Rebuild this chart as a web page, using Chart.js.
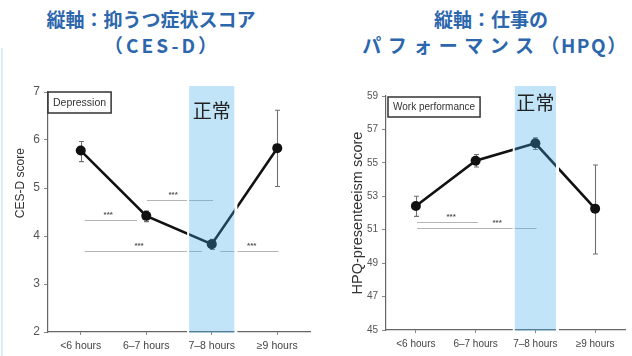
<!DOCTYPE html>
<html lang="ja">
<head>
<meta charset="utf-8">
<script src="https://cdn.jsdelivr.net/npm/chart.js@4/dist/chart.umd.min.js"></script>
<style>
  html, body { margin: 0; padding: 0; background: #fff; }
  body { width: 632px; height: 356px; position: relative; overflow: hidden; }
  .edge { position: absolute; left: 1px; top: 48px; width: 2px; height: 308px; background: #dcecf7; }
  .title {
    position: absolute; top: 6px; width: 320px; text-align: center;
    font-family: "Noto Sans CJK JP", sans-serif; font-weight: 700; font-size: 19px;
    line-height: 26px; color: #2c67ad; white-space: nowrap;
  }
  .title span { display: block; }
  #t1 { left: -9px; }
  #t1 .l2 { letter-spacing: 3px; margin-left: 22px; }
  #t2 { left: 331px; }
  #t2 .l2 { margin-left: 8px; }
  #t2 .kana { display: inline; letter-spacing: 6.5px; }
  #t2 .abbr { display: inline; letter-spacing: 1.5px; }
  canvas { position: absolute; top: 60px; }
  #cesd { left: 0; }
  #hpq { left: 320px; }
</style>
</head>
<body>
<div class="edge"></div>
<div class="title" id="t1"><span>縦軸：抑うつ症状スコア</span><span class="l2">（CES-D）</span></div>
<div class="title" id="t2"><span>縦軸：仕事の</span><span class="l2"><span class="kana">パフォーマンス</span><span class="abbr">（HPQ）</span></span></div>
<canvas id="cesd" width="320" height="296"></canvas>
<canvas id="hpq" width="312" height="296"></canvas>
<script>
// Sleep-duration groups
const categories = ['<6 hours', '6–7 hours', '7–8 hours', '≥9 hours'];
const normalGroup = 2; // "7–8 hours" band labelled 正常

// Depressive symptoms (CES-D): mean with error-bar bounds
const cesdMean = [5.78, 4.42, 3.83, 5.83];
const cesdLow  = [5.55, 4.30, 3.72, 5.03];
const cesdHigh = [5.97, 4.52, 3.93, 6.62];
const cesdTicks = [2, 3, 4, 5, 6, 7];

// Work performance (HPQ presenteeism): mean with error-bar bounds
const hpqMean = [52.42, 55.13, 56.17, 52.26];
const hpqLow  = [51.80, 54.75, 55.80, 49.55];
const hpqHigh = [53.00, 55.50, 56.50, 54.87];
const hpqTicks = [45, 47, 49, 51, 53, 55, 57, 59];

// Pairwise significance brackets: group span, level, label spot
const cesdSigFrom   = [0.06, 1.01, 0.06, 2.13];
const cesdSigTo     = [0.86, 2.02, 1.85, 3.02];
const cesdSigLevel  = [4.33, 4.75, 3.69, 3.69];
const cesdSigLabelX = [0.42, 1.41, 0.89, 2.61];
const hpqSigFrom    = [0.02, 0.02];
const hpqSigTo      = [1.04, 2.02];
const hpqSigLevel   = [51.48, 51.12];
const hpqSigLabelX  = [0.59, 1.36];

const FONT = '"Liberation Sans", Arial, sans-serif';
const JP = '"Noto Sans CJK JP", sans-serif';

function catPixel(xs, v) {
  const a = xs.getPixelForValue(0), b = xs.getPixelForValue(1);
  return a + (b - a) * v;
}

function overlay(o) {
  return {
    id: 'overlay',
    beforeDatasetsDraw(chart) {
      const { ctx, scales: { x, y } } = chart;
      ctx.save();
      // significance brackets
      ctx.strokeStyle = '#b5b5b5';
      ctx.lineWidth = 1;
      ctx.fillStyle = '#555';
      ctx.font = 'bold 8px ' + FONT;
      ctx.textAlign = 'center';
      ctx.textBaseline = 'middle';
      for (let i = 0; i < o.sigFrom.length; i++) {
        const py = Math.round(y.getPixelForValue(o.sigLevel[i])) + 0.5;
        ctx.beginPath();
        ctx.moveTo(catPixel(x, o.sigFrom[i]), py);
        ctx.lineTo(catPixel(x, o.sigTo[i]), py);
        ctx.stroke();
        ctx.fillText('***', catPixel(x, o.sigLabelX[i]), py - 6);
      }
      // error bars
      ctx.strokeStyle = '#707070';
      ctx.lineWidth = 1.1;
      for (let i = 0; i < o.mean.length; i++) {
        const px = Math.round(x.getPixelForValue(i)) + 0.5;
        const top = y.getPixelForValue(o.high[i]);
        const bot = y.getPixelForValue(o.low[i]);
        ctx.beginPath();
        ctx.moveTo(px, top); ctx.lineTo(px, bot);
        ctx.moveTo(px - 2.5, top); ctx.lineTo(px + 2.5, top);
        ctx.moveTo(px - 2.5, bot); ctx.lineTo(px + 2.5, bot);
        ctx.stroke();
      }
      ctx.restore();
    },
    afterDatasetsDraw(chart) {
      const { ctx, chartArea: ca, scales: { x, y } } = chart;
      ctx.save();
      // reference band for the normal sleep group
      const l = catPixel(x, normalGroup - 0.345);
      const r = catPixel(x, normalGroup + 0.345);
      ctx.fillStyle = '#fff';
      ctx.fillRect(l - 2, o.bandTop, 2, ca.bottom - o.bandTop + 1);
      ctx.fillRect(r, o.bandTop, 3, ca.bottom - o.bandTop + 1);
      ctx.fillStyle = 'rgba(64, 172, 232, 0.32)';
      ctx.fillRect(l, o.bandTop, r - l, ca.bottom - o.bandTop + 1);
      ctx.fillStyle = '#222';
      ctx.font = '19px ' + JP;
      ctx.textAlign = 'center';
      ctx.textBaseline = 'middle';
      ctx.fillText('正常', (l + r) / 2, o.normalY);

      // panel tag
      ctx.font = o.tagFont + 'px ' + FONT;
      const tw = ctx.measureText(o.tag).width;
      ctx.strokeStyle = '#333';
      ctx.lineWidth = 1.5;
      ctx.fillStyle = '#fff';
      ctx.fillRect(o.tagX, o.tagY, tw + 10, o.tagH);
      ctx.strokeRect(o.tagX, o.tagY, tw + 10, o.tagH);
      ctx.fillStyle = '#333';
      ctx.textAlign = 'left';
      ctx.fillText(o.tag, o.tagX + 5, o.tagY + o.tagH / 2 + 0.5);

      // vertical axis title
      ctx.translate(o.yTitleX, y.getPixelForValue(o.yTitleAt));
      ctx.rotate(-Math.PI / 2);
      ctx.font = o.yTitleFont + 'px ' + FONT;
      ctx.fillStyle = '#333';
      ctx.textAlign = 'center';
      ctx.fillText(o.yTitle, 0, 0);
      ctx.restore();
    }
  };
}

function buildChart(id, o) {
  return new Chart(document.getElementById(id), {
    type: 'line',
    data: {
      labels: categories,
      datasets: [{
        data: o.mean,
        borderColor: '#111',
        backgroundColor: '#111',
        borderWidth: 2.6,
        pointRadius: 5,
        pointHoverRadius: 5,
        pointBorderWidth: 0,
        tension: 0
      }]
    },
    options: {
      responsive: false,
      animation: false,
      devicePixelRatio: 1,
      events: [],
      layout: { padding: { top: o.padTop, right: o.padRight, left: 0, bottom: 0 } },
      plugins: { legend: { display: false }, tooltip: { enabled: false } },
      scales: {
        x: {
          offset: true,
          grid: { drawOnChartArea: false, drawTicks: true, tickLength: 3, color: '#888' },
          border: { color: '#666', width: 1.2 },
          ticks: { font: { family: FONT, size: o.xFont }, color: '#444', padding: 5, maxRotation: 0, autoSkip: false },
          afterFit(s) { s.height = o.xHeight; }
        },
        y: {
          min: o.ticks[0],
          max: o.ticks[o.ticks.length - 1],
          afterBuildTicks(s) { s.ticks = o.ticks.map(v => ({ value: v })); },
          grid: { drawOnChartArea: false, drawTicks: true, tickLength: 4, color: '#888' },
          border: { color: '#666', width: 1.2 },
          ticks: { font: { family: FONT, size: o.yFont }, color: '#555', padding: 4 },
          afterFit(s) { s.width = o.yWidth; }
        }
      }
    },
    plugins: [overlay(o)]
  });
}

buildChart('cesd', {
  mean: cesdMean, low: cesdLow, high: cesdHigh, ticks: cesdTicks,
  sigFrom: cesdSigFrom, sigTo: cesdSigTo, sigLevel: cesdSigLevel, sigLabelX: cesdSigLabelX,
  padTop: 32, padRight: 10, yWidth: 48, xHeight: 24, xFont: 10.5, yFont: 12,
  bandTop: 26, normalY: 51,
  tag: 'Depression', tagFont: 10.5, tagX: 48, tagY: 32, tagH: 21,
  yTitle: 'CES-D score', yTitleFont: 12, yTitleX: 21, yTitleAt: 5.1
});

buildChart('hpq', {
  mean: hpqMean, low: hpqLow, high: hpqHigh, ticks: hpqTicks,
  sigFrom: hpqSigFrom, sigTo: hpqSigTo, sigLevel: hpqSigLevel, sigLabelX: hpqSigLabelX,
  padTop: 36, padRight: 7, yWidth: 66, xHeight: 26, xFont: 10, yFont: 10,
  bandTop: 26, normalY: 43,
  tag: 'Work performance', tagFont: 10, tagX: 68, tagY: 37, tagH: 20,
  yTitle: 'HPQ-presenteeism score', yTitleFont: 14.5, yTitleX: 38, yTitleAt: 52
});
</script>
</body>
</html>
